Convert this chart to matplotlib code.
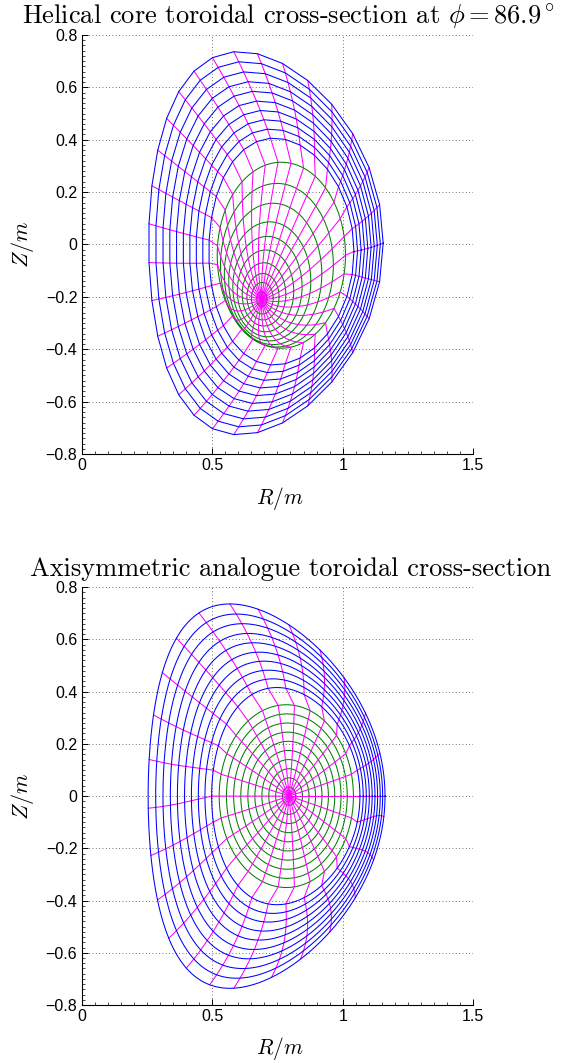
import numpy as np
import matplotlib
matplotlib.use("Agg")
import matplotlib.pyplot as plt
from matplotlib.ticker import MultipleLocator

plt.rcParams['mathtext.fontset'] = 'cm'

# ---------------- helical core equilibrium, toroidal angle phi ----------------
hel_phi_deg = 86.9
# outer (blue) region: shaped flux surfaces, centre and shape blend from inner surface to edge
hel_edge_centre = [0.706, 0.005]          # R, Z of boundary centre
hel_centre_shift = [0.096, -0.052]        # centre offset growing towards rho -> 0
hel_minor_radius = 0.449
hel_kappa = [1.56, 1.63]                  # elongation: innermost blue surface, boundary
hel_delta = [0.10, 0.225]                 # triangularity: innermost blue surface, boundary
hel_rho_blue = [0.619, 0.661, 0.704, 0.746, 0.788, 0.831, 0.873, 0.915, 0.958, 1.0]
hel_n_poloidal = 31
# helical core (green) region: nested shifted ellipses around the displaced axis
hel_axis = [0.69, -0.21]
hel_core_shift = [0.075, 0.169]
hel_core_semi = [0.2455, 0.355]
hel_x_green = [0.08, 0.17, 0.25, 0.34, 0.44, 0.54, 0.64, 0.76, 0.88, 1.0]

# ---------------- axisymmetric analogue equilibrium ----------------
axi_edge_centre = [0.7085, 0.0]
axi_centre_shift = [0.121, 0.0]
axi_minor_radius = 0.4535
axi_kappa = [1.465, 1.623]
axi_delta = [0.12, 0.31]
axi_rho_blue = [0.626, 0.668, 0.709, 0.751, 0.792, 0.834, 0.875, 0.917, 0.958, 1.0]
axi_axis = [0.795, 0.0]
axi_core_shift = [-0.011, 0.0]
axi_core_semi = [0.257, 0.35]
axi_x_green = [0.1, 0.2, 0.3, 0.4, 0.5, 0.6, 0.7, 0.8, 0.9, 1.0]
axi_n_poloidal = 26
# poloidal angle of each grid line where it reaches the boundary (deg)
axi_theta_edge_deg = [0, 12.9, 25.6, 37.9, 49.5, 63, 76.6, 90, 107.6, 124.7, 140, 155, 169,
                      183.6, 198, 212.7, 227.7, 243.5, 259, 272, 289.4, 302, 315, 328,
                      340.6, 353.9]

# axes decoration
x_ticks = [0, 0.5, 1.0, 1.5]
x_tick_labels = ['0', '0.5', '1', '1.5']
y_ticks = [-0.8, -0.6, -0.4, -0.2, 0, 0.2, 0.4, 0.6, 0.8]
y_tick_labels = ['\u22120.8', '\u22120.6', '\u22120.4', '\u22120.2', '0', '0.2', '0.4', '0.6', '0.8']
titles = [r'Helical core toroidal cross-section at $\phi = %.1f^\circ$' % hel_phi_deg,
          'Axisymmetric analogue toroidal cross-section']

BLUE, MAGENTA, GREEN = '#0000ff', '#ff00ff', '#008000'
LW = 0.75


def outer_map(rho, th, centre, shift, a, kappa, delta, rho_in):
    t = (rho - rho_in) / (1.0 - rho_in)
    k = kappa[0] + (kappa[1] - kappa[0]) * t
    d = delta[0] + (delta[1] - delta[0]) * t
    rc = centre[0] + shift[0] * (1 - rho ** 2)
    zc = centre[1] + shift[1] * (1 - rho ** 2)
    R = rc + a * rho * np.cos(th + np.arcsin(d) * np.sin(th))
    Z = zc + k * a * rho * np.sin(th)
    return R, Z


def core_map(x, th, axis, shift, semi):
    R = axis[0] + shift[0] * x ** 2 + semi[0] * x * np.cos(th)
    Z = axis[1] + shift[1] * x ** 2 + semi[1] * x * np.sin(th)
    return R, Z


def draw_grid(ax, centre, shift, a, kappa, delta, rho_blue, axis, cshift, csemi,
              x_green, th_core, th_edge, coarse):
    rho_blue = np.asarray(rho_blue)
    rho_in = rho_blue[0]
    omap = lambda r, t: outer_map(r, t, centre, shift, a, kappa, delta, rho_in)
    cmap_ = lambda x, t: core_map(x, t, axis, cshift, csemi)

    # core flux surfaces
    th_f = np.linspace(0, 2 * np.pi, 361)
    for x in x_green:
        R, Z = cmap_(x, th_f)
        ax.plot(R, Z, color=GREEN, lw=LW, zorder=1)

    # constant-angle grid lines from the axis to the boundary
    xs = np.linspace(0, 1, 80)
    for tc, te in zip(th_core, th_edge):
        Rc, Zc = cmap_(xs, tc)
        rhos = rho_blue if coarse else np.linspace(rho_in, 1.0, 80)
        tt = (rhos - rho_in) / (1 - rho_in)
        blend = 2 * tt - tt ** 2
        Ro, Zo = omap(rhos, tc + (te - tc) * blend)
        ax.plot(np.concatenate([Rc, Ro]), np.concatenate([Zc, Zo]),
                color=MAGENTA, lw=LW, zorder=2)

    # outer flux surfaces
    if coarse:
        th_s = np.append(th_edge, th_edge[0])
    else:
        th_s = np.linspace(0, 2 * np.pi, 721)
    for rho in rho_blue:
        R, Z = omap(rho, th_s)
        ax.plot(R, Z, color=BLUE, lw=LW, zorder=3)


def style_axes(ax):
    ax.set_xlim(0, 1.5)
    ax.set_ylim(-0.8, 0.8)
    ax.spines['top'].set_visible(False)
    ax.spines['right'].set_visible(False)
    ax.spines['left'].set_linewidth(0.8)
    ax.spines['bottom'].set_linewidth(0.8)
    ax.set_xticks(x_ticks)
    ax.set_xticklabels(x_tick_labels, fontsize=11.5, family='Liberation Sans')
    ax.set_yticks(y_ticks)
    ax.set_yticklabels(y_tick_labels, fontsize=11.5, family='Liberation Sans')
    ax.xaxis.set_minor_locator(MultipleLocator(0.05))
    ax.yaxis.set_minor_locator(MultipleLocator(0.02))
    ax.tick_params(which='major', direction='in', length=4, width=0.7, pad=3,
                   top=False, right=False)
    ax.tick_params(which='minor', direction='in', length=2, width=0.5,
                   top=False, right=False)
    ax.grid(True, which='major', linestyle=(0, (1, 3)), color='0.25', linewidth=0.6)
    ax.set_axisbelow(True)
    ax.set_xlabel(r'$R/m$', fontsize=15.5)
    ax.set_ylabel(r'$Z/m$', fontsize=16)
    ax.xaxis.set_label_coords(0.507, -0.073)
    ax.yaxis.set_label_coords(-0.115, 0.5)


fig = plt.figure(figsize=(5.61, 10.63), dpi=100)
ax1 = fig.add_axes([0.1453, 0.5729, 0.6984, 0.3942])
ax2 = fig.add_axes([0.1453, 0.05456, 0.6984, 0.3930])

hel_theta = 2 * np.pi * np.arange(hel_n_poloidal) / hel_n_poloidal
draw_grid(ax1, hel_edge_centre, hel_centre_shift, hel_minor_radius, hel_kappa, hel_delta,
          hel_rho_blue, hel_axis, hel_core_shift, hel_core_semi, hel_x_green,
          hel_theta, hel_theta, coarse=True)

axi_theta_core = 2 * np.pi * np.arange(axi_n_poloidal) / axi_n_poloidal
axi_theta_edge = np.deg2rad(axi_theta_edge_deg)
draw_grid(ax2, axi_edge_centre, axi_centre_shift, axi_minor_radius, axi_kappa, axi_delta,
          axi_rho_blue, axi_axis, axi_core_shift, axi_core_semi, axi_x_green,
          axi_theta_core, axi_theta_edge, coarse=False)

style_axes(ax1)
style_axes(ax2)

# panel titles, centred above each plot
fig.text(288 / 561, 1 - 23.5 / 1063, titles[0], fontsize=19, family='cmr10',
         ha='center', va='baseline')
fig.text(291 / 561, 1 - 576 / 1063, titles[1], fontsize=19, family='cmr10',
         ha='center', va='baseline')

fig.savefig('out.png', dpi=100)
